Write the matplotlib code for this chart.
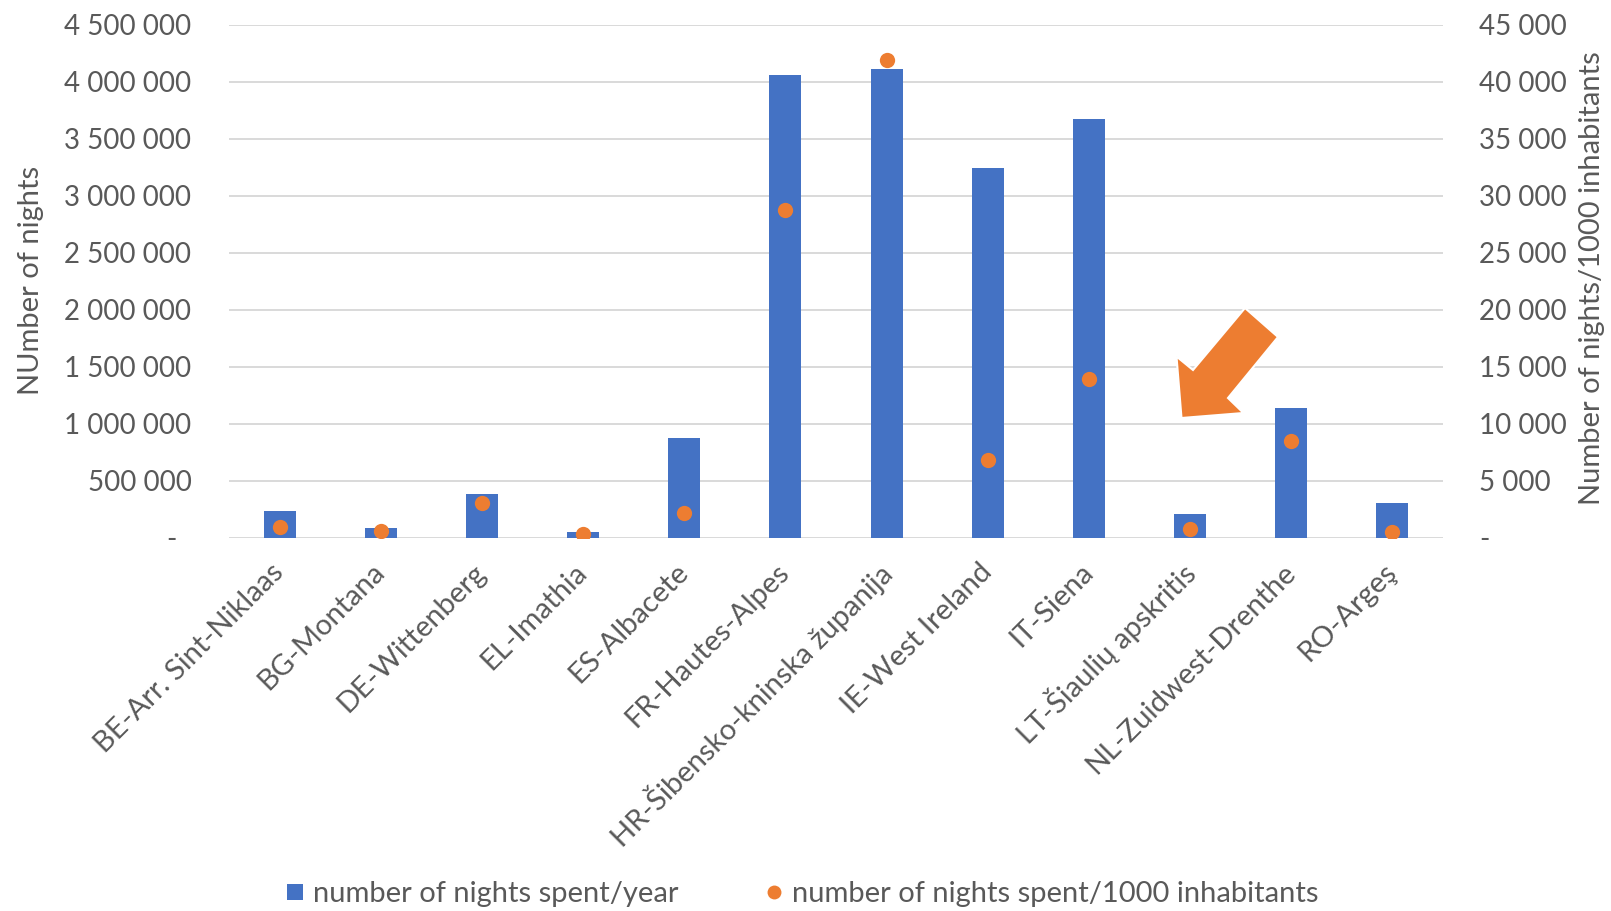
import matplotlib
matplotlib.use("Agg")
import matplotlib.pyplot as plt
from matplotlib.patches import Polygon
from matplotlib.lines import Line2D
from matplotlib.ticker import FuncFormatter, MultipleLocator

categories = ["BE-Arr. Sint-Niklaas", "BG-Montana", "DE-Wittenberg", "EL-Imathia",
              "ES-Albacete", "FR-Hautes-Alpes", "HR-Šibensko-kninska županija",
              "IE-West Ireland", "IT-Siena", "LT-Šiaulių apskritis",
              "NL-Zuidwest-Drenthe", "RO-Argeş"]
nights_per_year = [235000, 82000, 379000, 50000, 872000, 4056000, 4108000,
                   3239000, 3675000, 202000, 1136000, 304000]
nights_per_1000 = [890, 593, 2984, 280, 2164, 28778, 41867,
                   6824, 13909, 742, 8482, 506]

label_bar = "number of nights spent/year"
label_dot = "number of nights spent/1000 inhabitants"

plt.rcParams['font.family'] = ['Lato', 'DejaVu Sans']
TXT = "#595959"
BLUE = "#4472C4"
ORANGE = "#ED7D31"
FS_TICK = 20
FS = 21

W, H = 1611, 911
fig = plt.figure(figsize=(W / 100, H / 100), dpi=100)
left, right = 229 / W, 1443 / W
bottom, top = 1 - 537.5 / H, 1 - 24.7 / H
ax = fig.add_axes([left, bottom, right - left, top - bottom])
ax2 = ax.twinx()

x = list(range(len(categories)))
ax.bar(x, nights_per_year, width=0.316, color=BLUE, zorder=3)
ax2.plot(x, nights_per_1000, linestyle='none', marker='o', markersize=11,
         color=ORANGE, markeredgewidth=0, zorder=4)

ax.set_xlim(-0.5, len(categories) - 0.5)
ax.set_ylim(0, 4500000)
ax2.set_ylim(0, 45000)
ax.yaxis.set_major_locator(MultipleLocator(500000))
ax2.yaxis.set_major_locator(MultipleLocator(5000))

def fmt(v, pos):
    v = int(round(v))
    if v == 0:
        return "-  "
    return "{:,}".format(v).replace(",", " ")

def fmt2(v, pos):
    v = int(round(v))
    if v == 0:
        return "-"
    return "{:,}".format(v).replace(",", " ")

ax.yaxis.set_major_formatter(FuncFormatter(fmt))
ax2.yaxis.set_major_formatter(FuncFormatter(fmt2))

for a in (ax, ax2):
    for s in a.spines.values():
        s.set_visible(False)
ax.grid(axis='y', color="#D9D9D9", linewidth=1.4, zorder=0)
ax.set_axisbelow(True)

ax.tick_params(axis='y', length=0, pad=27, labelsize=FS_TICK, labelcolor=TXT)
ax2.tick_params(axis='y', length=0, pad=26, labelsize=FS_TICK, labelcolor=TXT)
for t in ax2.get_yticklabels():
    t.set_ha('left')

ax.set_xticks(x)
ax.set_xticklabels(categories, rotation=45, ha='right', va='center',
                   rotation_mode='anchor', fontsize=FS, color=TXT)
ax.tick_params(axis='x', length=0, pad=22)

fig.text(31 / W, 1 - 280 / H, "NUmber of nights", rotation=90, ha='center',
         va='center', fontsize=FS, color=TXT)
fig.text(1592 / W, 1 - 278 / H, "Number of nights/1000 inhabitants", rotation=90,
         ha='center', va='center', fontsize=FS, color=TXT)

# arrow annotation (pixel coordinates)
arrow_px = [(1245, 308), (1278, 337), (1228, 398), (1243.5, 413),
            (1181.5, 418), (1176.5, 356.5), (1193, 370)]
arrow = Polygon([(px / W, 1 - py / H) for px, py in arrow_px], closed=True,
                transform=fig.transFigure, facecolor=ORANGE, edgecolor='white',
                linewidth=1.5, zorder=10)
fig.patches.append(arrow)

handles = [Line2D([], [], linestyle='none', marker='s', markersize=12,
                  color=BLUE, markeredgewidth=0),
           Line2D([], [], linestyle='none', marker='o', markersize=10,
                  color=ORANGE, markeredgewidth=0)]
leg = fig.legend(handles, [label_bar, label_dot], loc='center', ncol=2,
                 bbox_to_anchor=(0.498, 1 - 894 / H), frameon=False,
                 fontsize=FS, handlelength=0.6, handletextpad=0.3,
                 columnspacing=3.0, labelcolor=TXT)

fig.savefig("out.png", dpi=100)
